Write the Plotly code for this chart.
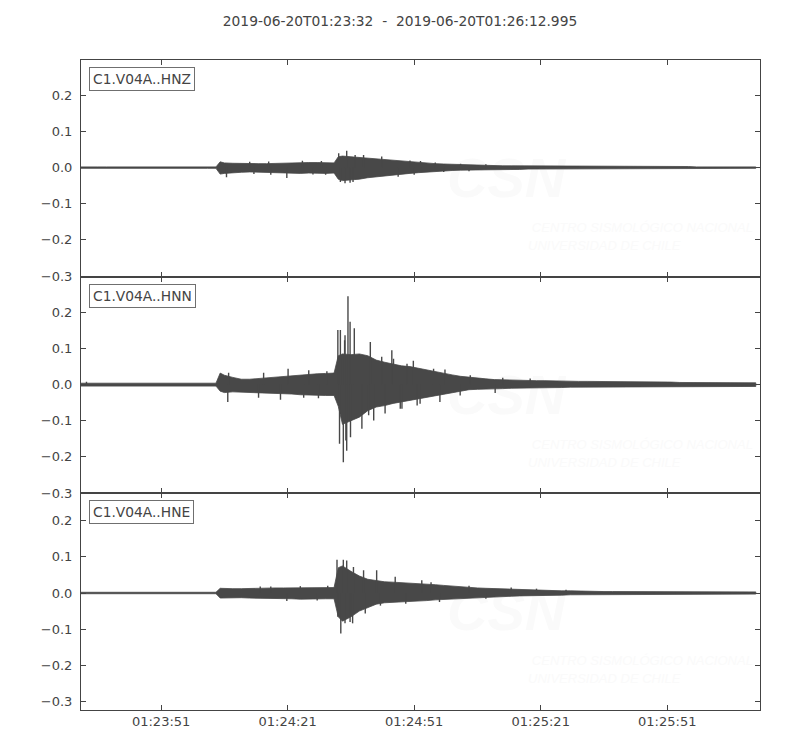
import numpy as np
import pandas as pd
import plotly.graph_objects as go
import plotly.subplots

# time base (seconds after 2019-06-20T01:23:32)
seconds = [0, 2, 4, 6, 8, 10, 12, 14, 16, 18, 20, 22, 24, 26, 28, 30, 32,
           33,
           34, 36, 38, 40, 42, 44, 46, 48, 50, 52, 54, 56, 58, 60,
           61,
           62, 64, 66, 68, 70, 72, 74, 76, 78, 80, 82, 84, 86, 88, 90,
           92, 94, 96, 98, 100, 102, 104, 106, 108, 110, 112, 114, 116, 118, 120,
           122, 124, 126, 128, 130, 132, 134, 136, 138, 140, 142, 144, 146, 148, 150,
           152, 154, 156, 158, 160]

channels = ["C1.V04A..HNZ", "C1.V04A..HNN", "C1.V04A..HNE"]

# HNZ envelope of the dense part of the trace
hnz_upper = [0.002, 0.003, 0.002, 0.002, 0.002, 0.002, 0.002, 0.002, 0.002, 0.002, 0.002, 0.002, 0.002, 0.002, 0.002, 0.002, 0.002,
             0.016,
             0.013, 0.012, 0.011, 0.010, 0.011, 0.011, 0.012, 0.013, 0.013, 0.014, 0.014, 0.014, 0.013, 0.013,
             0.030,
             0.032, 0.030, 0.028, 0.027, 0.025, 0.022, 0.020, 0.017, 0.015, 0.014, 0.012, 0.011, 0.010, 0.009, 0.008,
             0.007, 0.007, 0.006, 0.006, 0.005, 0.005, 0.005, 0.004, 0.004, 0.004, 0.004, 0.004, 0.004, 0.003, 0.003,
             0.003, 0.003, 0.003, 0.003, 0.003, 0.003, 0.003, 0.003, 0.003, 0.003, 0.003, 0.003, 0.002, 0.002, 0.002,
             0.002, 0.002, 0.002, 0.002, 0.002]
hnz_lower = [-0.002, -0.002, -0.003, -0.002, -0.002, -0.002, -0.002, -0.002, -0.002, -0.002, -0.002, -0.002, -0.002, -0.002, -0.002, -0.002, -0.002,
             -0.018,
             -0.016, -0.014, -0.013, -0.012, -0.013, -0.013, -0.014, -0.015, -0.015, -0.016, -0.015, -0.015, -0.016, -0.015,
             -0.032,
             -0.036, -0.034, -0.032, -0.028, -0.025, -0.022, -0.020, -0.018, -0.016, -0.014, -0.012, -0.010, -0.009, -0.008, -0.007,
             -0.007, -0.006, -0.006, -0.005, -0.005, -0.005, -0.005, -0.004, -0.004, -0.004, -0.004, -0.004, -0.004, -0.003, -0.003,
             -0.003, -0.003, -0.003, -0.003, -0.003, -0.003, -0.003, -0.003, -0.003, -0.003, -0.003, -0.003, -0.003, -0.003, -0.002,
             -0.002, -0.002, -0.002, -0.002, -0.002]
hnz_spike_t = [34.5, 40.0, 41.0, 44.5, 45.0, 48.8, 52.5, 55.0, 57.0, 58.0, 61.1, 61.5, 62.6, 63.0, 63.8,
               64.5, 65.0, 67.0, 71.3, 75.2, 78.0, 79.0, 80.5, 84.0, 86.0, 90.0, 92.0, 96.0]
hnz_spike_amp = [-0.027, 0.016, -0.018, 0.017, -0.020, -0.029, 0.019, -0.019, 0.018, -0.020, 0.040, -0.040, -0.043, 0.047, -0.042,
                 -0.040, 0.035, 0.035, 0.031, -0.025, 0.020, -0.020, 0.018, 0.014, -0.012, 0.011, -0.010, 0.009]

# HNN
hnn_upper = [0.004, 0.004, 0.004, 0.004, 0.004, 0.004, 0.004, 0.004, 0.004, 0.004, 0.004, 0.004, 0.004, 0.004, 0.004, 0.004, 0.004,
             0.032,
             0.026, 0.020, 0.015, 0.015, 0.017, 0.018, 0.020, 0.022, 0.024, 0.027, 0.028, 0.030, 0.031, 0.032,
             0.080,
             0.085, 0.083, 0.085, 0.080, 0.068, 0.062, 0.056, 0.052, 0.050, 0.045, 0.040, 0.036, 0.032, 0.027, 0.023,
             0.020, 0.018, 0.016, 0.014, 0.013, 0.013, 0.012, 0.012, 0.011, 0.011, 0.010, 0.010, 0.010, 0.009, 0.009,
             0.009, 0.008, 0.008, 0.008, 0.008, 0.007, 0.007, 0.007, 0.007, 0.007, 0.006, 0.006, 0.006, 0.006, 0.006,
             0.005, 0.005, 0.005, 0.005, 0.005]
hnn_lower = [-0.004, -0.004, -0.004, -0.004, -0.004, -0.004, -0.004, -0.004, -0.004, -0.004, -0.004, -0.004, -0.004, -0.004, -0.004, -0.004, -0.004,
             -0.018,
             -0.022, -0.020, -0.020, -0.021, -0.022, -0.023, -0.024, -0.025, -0.026, -0.028, -0.029, -0.030, -0.030, -0.030,
             -0.060,
             -0.110, -0.100, -0.090, -0.072, -0.062, -0.058, -0.052, -0.047, -0.042, -0.038, -0.034, -0.030, -0.026, -0.022, -0.018,
             -0.014, -0.013, -0.012, -0.011, -0.011, -0.010, -0.010, -0.009, -0.009, -0.008, -0.008, -0.008, -0.007, -0.007, -0.007,
             -0.007, -0.006, -0.006, -0.006, -0.006, -0.006, -0.006, -0.006, -0.006, -0.006, -0.005, -0.005, -0.005, -0.005, -0.005,
             -0.005, -0.005, -0.005, -0.005, -0.005]
hnn_spike_t = [1.3, 34.8, 35.0, 42.1, 43.3, 47.3, 49.1, 52.8, 54.0, 56.3, 58.3, 60.9, 61.3, 61.5, 62.2,
               62.5, 62.6, 62.8, 63.0, 63.3, 63.8, 63.9, 64.8, 66.6, 68.2, 68.6, 69.4, 71.3, 72.1, 73.7,
               74.1, 75.7, 76.1, 77.3, 78.8, 79.7, 80.4, 83.6, 85.1, 86.3, 89.9, 92.3, 98.2, 100.0, 106.5]
hnn_spike_amp = [0.008, -0.048, 0.033, -0.036, 0.033, -0.042, 0.044, -0.036, 0.040, -0.038, 0.037, 0.151, -0.164, 0.151, -0.215,
                 0.123, 0.137, -0.155, -0.183, 0.245, 0.174, -0.146, 0.156, -0.122, -0.085, 0.118, -0.099, 0.077, -0.080, 0.095,
                 0.072, -0.067, -0.067, 0.058, 0.066, -0.058, -0.053, 0.044, -0.048, 0.042, -0.030, 0.026, -0.023, 0.019, 0.017]

# HNE
hne_upper = [0.002, 0.002, 0.002, 0.002, 0.002, 0.002, 0.002, 0.002, 0.002, 0.002, 0.002, 0.002, 0.002, 0.002, 0.002, 0.002, 0.002,
             0.013,
             0.012, 0.012, 0.012, 0.013, 0.013, 0.014, 0.014, 0.014, 0.014, 0.015, 0.015, 0.015, 0.015, 0.015,
             0.070,
             0.075, 0.060, 0.047, 0.038, 0.034, 0.031, 0.030, 0.029, 0.028, 0.027, 0.025, 0.023, 0.021, 0.019, 0.017,
             0.015, 0.014, 0.013, 0.012, 0.011, 0.010, 0.009, 0.009, 0.008, 0.008, 0.007, 0.006, 0.006, 0.005, 0.005,
             0.005, 0.004, 0.004, 0.004, 0.004, 0.004, 0.003, 0.003, 0.003, 0.003, 0.003, 0.003, 0.003, 0.003, 0.003,
             0.003, 0.003, 0.003, 0.003, 0.003]
hne_lower = [-0.002, -0.002, -0.002, -0.002, -0.002, -0.002, -0.002, -0.002, -0.002, -0.002, -0.002, -0.002, -0.002, -0.002, -0.002, -0.002, -0.002,
             -0.014,
             -0.014, -0.013, -0.013, -0.014, -0.014, -0.015, -0.016, -0.016, -0.016, -0.017, -0.017, -0.017, -0.016, -0.016,
             -0.066,
             -0.078, -0.066, -0.050, -0.040, -0.031, -0.027, -0.025, -0.024, -0.023, -0.022, -0.021, -0.019, -0.017, -0.015, -0.014,
             -0.013, -0.012, -0.011, -0.010, -0.010, -0.009, -0.008, -0.008, -0.007, -0.007, -0.006, -0.006, -0.005, -0.005, -0.005,
             -0.004, -0.004, -0.004, -0.004, -0.003, -0.003, -0.003, -0.003, -0.003, -0.003, -0.003, -0.003, -0.003, -0.003, -0.003,
             -0.003, -0.003, -0.003, -0.003, -0.003]
hne_spike_t = [42.5, 45.0, 48.8, 52.0, 56.0, 58.5, 60.7, 60.9, 61.6, 62.2, 62.6, 63.0, 63.8, 64.4, 64.6,
               67.0, 67.4, 70.1, 71.0, 74.5, 77.0, 80.8, 83.0, 85.0, 92.0, 96.0, 102.0, 108.0, 115.0]
hne_spike_amp = [0.018, 0.018, -0.022, 0.019, -0.021, 0.020, 0.092, -0.066, -0.112, 0.092, -0.084, 0.090, -0.080, -0.084, 0.072,
                 0.063, -0.057, 0.063, -0.035, 0.045, -0.030, 0.035, 0.030, -0.025, 0.020, -0.016, 0.015, 0.012, 0.009]

y_ranges = [[-0.302, 0.298], [-0.301, 0.299], [-0.324, 0.276]]
y_tickvals = [-0.3, -0.2, -0.1, 0.0, 0.1, 0.2]
y_ticktext = ["\u22120.3", "\u22120.2", "\u22120.1", "0.0", "0.1", "0.2"]
x_tickvals = ["2019-06-20 01:23:51", "2019-06-20 01:24:21", "2019-06-20 01:24:51",
              "2019-06-20 01:25:21", "2019-06-20 01:25:51"]
x_ticktext = ["01:23:51", "01:24:21", "01:24:51", "01:25:21", "01:25:51"]

start = pd.Timestamp("2019-06-20 01:23:32")
end = start + pd.Timedelta(seconds=160.995)

wave_color = "#484848"
text_color = "#444444"
mark_color = "#fafafa"
font = "DejaVu Sans"


def to_time(sec):
    return [(start + pd.Timedelta(seconds=float(s))).strftime("%Y-%m-%d %H:%M:%S.%f") for s in sec]


fig = plotly.subplots.make_subplots(rows=3, cols=1, shared_xaxes=True, vertical_spacing=0)

t = to_time(seconds)
data = [(hnz_upper, hnz_lower, hnz_spike_t, hnz_spike_amp),
        (hnn_upper, hnn_lower, hnn_spike_t, hnn_spike_amp),
        (hne_upper, hne_lower, hne_spike_t, hne_spike_amp)]

for i, (upper, lower, sp_t, sp_a) in enumerate(data):
    row = i + 1
    y0, y1 = y_ranges[i]

    def yfrac(f):
        return y1 - f * (y1 - y0)

    # faint CSN watermark, drawn first so it sits under the trace
    fig.add_trace(go.Scatter(x=to_time([100.8]), y=[yfrac(0.567)], mode="text", text=["CSN"],
                             textfont=dict(family="Liberation Sans", size=56, color=mark_color,
                                           weight="bold", style="italic"),
                             hoverinfo="skip", showlegend=False), row=row, col=1)
    fig.add_trace(go.Scatter(x=to_time([106.9, 106.0]), y=[yfrac(0.779), yfrac(0.862)], mode="text",
                             text=["CENTRO SISMOLÓGICO NACIONAL", "UNIVERSIDAD DE CHILE"],
                             textposition="middle right",
                             textfont=dict(family="Liberation Sans", size=13, color=mark_color,
                                           style="italic"),
                             hoverinfo="skip", showlegend=False), row=row, col=1)

    # dense part of the seismogram
    fig.add_trace(go.Scatter(x=t + t[::-1], y=list(upper) + list(lower)[::-1], mode="lines",
                             fill="toself", fillcolor=wave_color,
                             line=dict(color=wave_color, width=0.8),
                             hoverinfo="skip", showlegend=False), row=row, col=1)

    # individual peaks
    sx, sy = [], []
    for ts, a in zip(to_time(sp_t), sp_a):
        sx += [ts, ts, None]
        sy += [0.0, a, None]
    fig.add_trace(go.Scatter(x=sx, y=sy, mode="lines", line=dict(color=wave_color, width=1.4),
                             hoverinfo="skip", showlegend=False), row=row, col=1)

    fig.update_yaxes(range=[y0, y1], tickvals=y_tickvals, ticktext=y_ticktext,
                     ticks="inside", ticklen=5, tickcolor=text_color, mirror="ticks",
                     showline=True, linecolor=text_color, linewidth=1,
                     showgrid=False, zeroline=False, ticklabelstandoff=5,
                     tickfont=dict(family=font, size=13, color=text_color), row=row, col=1)
    fig.update_xaxes(type="date", range=[start, end], tickvals=x_tickvals, ticktext=x_ticktext,
                     ticks="inside", ticklen=5, tickcolor=text_color, mirror="ticks",
                     showline=True, linecolor=text_color, linewidth=1,
                     showgrid=False, zeroline=False, showticklabels=(row == 3), ticklabelstandoff=-1,
                     tickfont=dict(family=font, size=13, color=text_color), row=row, col=1)

    yref = "y domain" if row == 1 else f"y{row} domain"
    xref = "x domain" if row == 1 else f"x{row} domain"
    fig.add_annotation(text=channels[i], xref=xref, yref=yref, x=0.0125, y=0.968,
                       xanchor="left", yanchor="top", showarrow=False,
                       font=dict(family=font, size=13.8, color=text_color),
                       bgcolor="white", bordercolor="#6f6f6f", borderwidth=1, borderpad=3)

fig.update_layout(
    width=800, height=750,
    margin=dict(l=72.5, r=48, t=52, b=48),
    paper_bgcolor="white", plot_bgcolor="white",
    title=dict(text="2019-06-20T01:23:32\u00a0\u00a0-\u00a0\u00a02019-06-20T01:26:12.995",
               x=0.49, xanchor="center", y=0.9827, yanchor="middle",
               font=dict(family=font, size=13.8, color=text_color)),
    font=dict(family=font, color=text_color),
)

fig.write_html("out.html")
